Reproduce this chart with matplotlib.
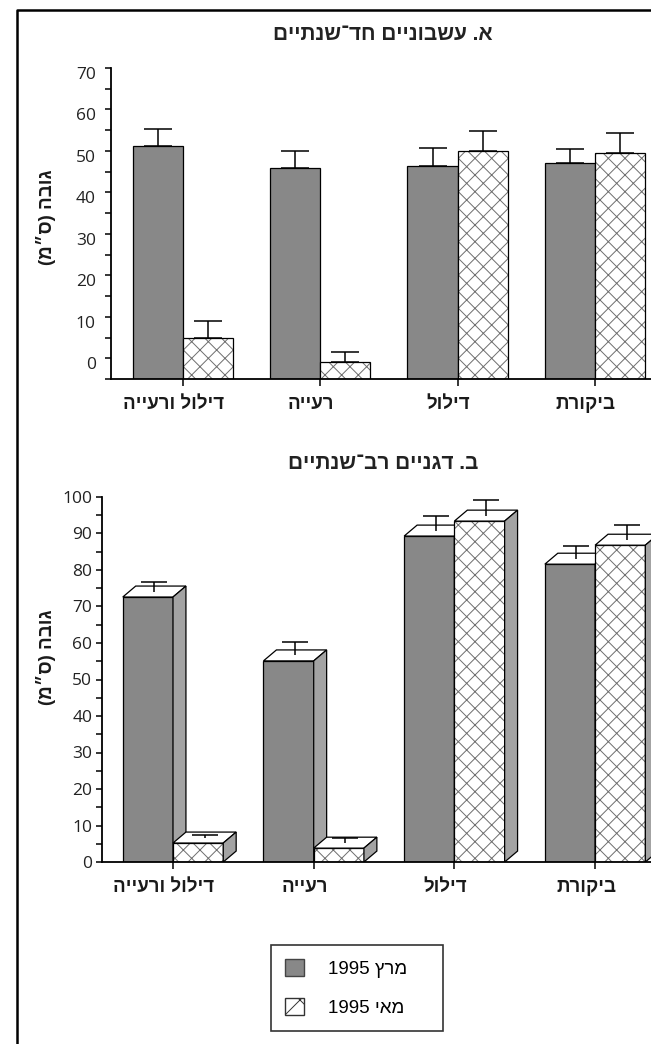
import re
import numpy as np
import matplotlib
matplotlib.use('Agg')
import matplotlib.pyplot as plt
import matplotlib.transforms as mtransforms
from matplotlib.patches import Patch
from matplotlib.lines import Line2D

# data
groups = ['דילול ורעייה', 'רעייה', 'דילול', 'ביקורת']
series = ['מרץ 1995', 'מאי 1995']
ylabel = 'גובה (ס״מ)'

title_a = 'א. עשבוניים חד־שנתיים'
march_a = [51.3, 46.0, 46.3, 47.1]
march_a_err = [4.0, 4.0, 4.5, 3.4]
may_a = [4.8, -1.0, 49.9, 49.5]
may_a_err = [4.1, 2.6, 5.0, 4.8]
yticks_a = [0, 10, 20, 30, 40, 50, 60, 70]

title_b = 'ב. דגניים רב־שנתיים'
march_b = [72.6, 55.1, 89.3, 81.6]
march_b_err = [4.1, 5.2, 5.5, 5.0]
may_b = [5.2, 3.8, 93.4, 86.8]
may_b_err = [2.2, 2.8, 5.8, 5.5]
yticks_b = [0, 10, 20, 30, 40, 50, 60, 70, 80, 90, 100]


def rtl(s):
    # matplotlib has no bidi, so lay the hebrew out in visual order
    s = re.sub(r'\d+', lambda m: m.group()[::-1], s[::-1])
    return s.translate(str.maketrans('()', ')('))


plt.rcParams['hatch.linewidth'] = 0.7
heb = ['Liberation Sans', 'DejaVu Sans']
num = ['Open Sans', 'DejaVu Sans']
dark = '#888888'
side = '#a3a3a3'
hatch_col = '#6e6e6e'
W, H = 651, 1044

fig = plt.figure(figsize=(W / 100, H / 100), dpi=100)
x = np.arange(len(groups))


def style_axis(ax, ticks, minor):
    for s in ['top', 'right']:
        ax.spines[s].set_visible(False)
    ax.spines['left'].set_linewidth(1.3)
    ax.spines['bottom'].set_linewidth(1.3)
    ax.set_yticks(ticks)
    ax.set_yticks(minor, minor=True)
    ax.tick_params(axis='y', which='both', length=4, width=1.1, direction='out', labelsize=12.5, pad=7)
    ax.tick_params(axis='x', length=5, width=1.1, direction='out', pad=7)
    for lab in ax.get_yticklabels():
        lab.set_family(num)
        lab.set_color('#222222')
    ax.set_xticks(x, [rtl(g) for g in groups])
    off = mtransforms.ScaledTranslation(-9 / 100, 0, fig.dpi_scale_trans)
    for lab in ax.get_xticklabels():
        lab.set_family(heb)
        lab.set_fontweight('bold')
        lab.set_fontsize(13.5)
        lab.set_color('#1a1a1a')
        lab.set_transform(lab.get_transform() + off)
    ax.set_ylabel(rtl(ylabel), family=heb, fontweight='bold', fontsize=13.5, color='#1a1a1a')


# ---- chart A: flat bars ----
ax1 = fig.add_axes([111 / W, 1 - 379 / H, 540 / W, 311 / H])
w = 0.365
base = -5
ax1.bar(x - w / 2, np.array(march_a) - base, w, bottom=base, color=dark, edgecolor='black', lw=0.9)
ax1.bar(x + w / 2, np.array(may_a) - base, w, bottom=base, color='white', edgecolor=hatch_col, hatch='xx', lw=0)
ax1.bar(x + w / 2, np.array(may_a) - base, w, bottom=base, fill=False, edgecolor='black', lw=0.9)
ax1.errorbar(x - w / 2, march_a, yerr=[np.zeros(4), march_a_err], fmt='none', ecolor='black', elinewidth=1.1, capsize=10, capthick=1.1)
ax1.errorbar(x + w / 2, may_a, yerr=[np.zeros(4), may_a_err], fmt='none', ecolor='black', elinewidth=1.1, capsize=10, capthick=1.1)
ax1.set_xlim((111 - 183) / 137.3, (651 - 183) / 137.3)
ax1.set_ylim(base, 70)
style_axis(ax1, yticks_a, np.arange(-5, 71, 5))
down = mtransforms.ScaledTranslation(0, -5 / 100, fig.dpi_scale_trans)
for lab in ax1.get_yticklabels():
    lab.set_transform(lab.get_transform() + down)
ax1.yaxis.set_label_coords(-0.102, 0.52)

# ---- chart B: 3d-looking bars ----
ax2 = fig.add_axes([102 / W, 1 - 862 / H, 549 / W, 365 / H])
w = 0.357
dx, dy = 0.092, 3.0
cw = 0.185
for vals, errs, off, face, hatch in [(march_b, march_b_err, -1, dark, None),
                                      (may_b, may_b_err, 1, 'white', 'xx')]:
    for xi, v, e in zip(x, vals, errs):
        x0 = xi if off > 0 else xi - w
        x1 = x0 + w
        if hatch:
            ax2.bar(x0, v, w, align='edge', color=face, edgecolor=hatch_col, hatch=hatch, lw=0, zorder=2)
            ax2.bar(x0, v, w, align='edge', fill=False, edgecolor='black', lw=0.9, zorder=2)
        else:
            ax2.bar(x0, v, w, align='edge', color=face, edgecolor='black', lw=0.9, zorder=2)
        ax2.fill([x0, x0 + dx, x1 + dx, x1], [v, v + dy, v + dy, v], facecolor='white', edgecolor='black', lw=0.9, zorder=2)
        ax2.fill([x1, x1 + dx, x1 + dx, x1], [0, dy, v + dy, v], facecolor=side, edgecolor='black', lw=0.9, zorder=2)
        xc = x0 + w / 2 + dx / 2
        ax2.vlines(xc, v + dy / 2, v + e, color='black', lw=1.1, zorder=3)
        ax2.hlines(v + e, xc - cw / 2, xc + cw / 2, color='black', lw=1.1, zorder=3)
ax2.set_xlim((102 - 173) / 140.7, (651 - 173) / 140.7)
ax2.set_ylim(0, 100)
style_axis(ax2, yticks_b, np.arange(0, 101, 5))
ax2.tick_params(axis='y', which='both', pad=3)
ax2.yaxis.set_label_coords(-0.084, 0.56)

fig.text(383 / W, 1 - 35 / H, rtl(title_a), ha='center', va='center', family=heb, fontweight='bold', fontsize=15, color='#222222')
fig.text(383 / W, 1 - 463 / H, rtl(title_b), ha='center', va='center', family=heb, fontweight='bold', fontsize=15, color='#222222')

handles = [Patch(facecolor=dark, edgecolor='#444444'),
           Patch(facecolor='white', edgecolor='#333333', hatch='x')]
leg = fig.legend(handles, [rtl(s) + '    ' for s in series], loc='center', bbox_to_anchor=(357 / W, 1 - 988 / H),
                 frameon=True, fancybox=False, edgecolor='black', prop={'family': heb, 'size': 13.5},
                 handlelength=1.0, handleheight=1.0, labelspacing=1.05, handletextpad=1.3, borderpad=0.75,
                 borderaxespad=0)
leg.get_frame().set_linewidth(1.2)

# scan border
fig.add_artist(Line2D([17 / W, 17 / W, 1], [0, 1 - 10 / H, 1 - 10 / H], transform=fig.transFigure, color='black', lw=1.8))

fig.savefig('out.png', dpi=100)
